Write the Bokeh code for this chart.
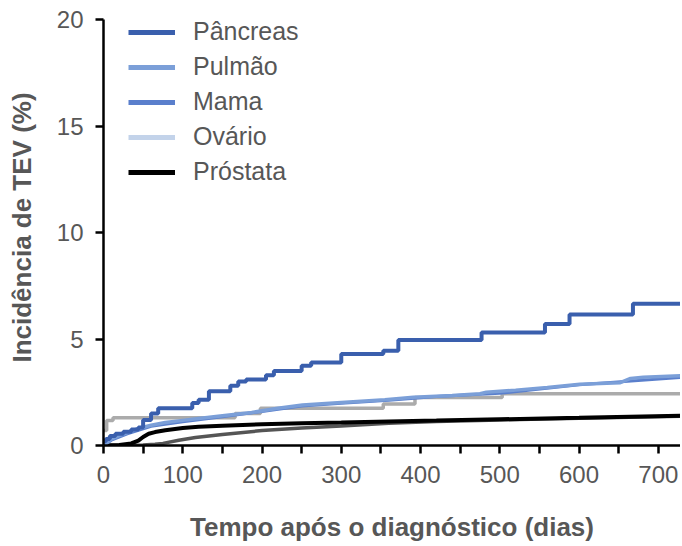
from bokeh.plotting import figure
from bokeh.models import FixedTicker, Legend, LegendItem, Range1d
from bokeh.embed import file_html
from bokeh.resources import INLINE

# ---- data ----
series_names = ["Pâncreas", "Pulmão", "Mama", "Ovário", "Próstata"]
legend_colors = ["#3a5fad", "#7b9fd8", "#5a7fcc", "#c3d3ea", "#000000"]

pancreas_days = [0, 3, 8, 15, 25, 35, 44, 50, 60, 69, 112, 120, 133, 160, 170, 180, 205, 215, 250, 262, 300, 353, 372, 477, 557, 588, 668, 730]
pancreas_vals = [0.2, 0.3, 0.45, 0.55, 0.65, 0.75, 0.85, 1.2, 1.5, 1.75, 2.0, 2.15, 2.55, 2.8, 3.0, 3.1, 3.3, 3.5, 3.75, 3.9, 4.3, 4.45, 4.95, 5.3, 5.7, 6.15, 6.65, 6.65]

pulmao_days = [0, 5, 10, 19, 30, 44, 60, 78, 100, 120, 150, 187, 220, 251, 300, 355, 391, 440, 475, 483, 520, 560, 601, 652, 665, 681, 730]
pulmao_vals = [0.0, 0.15, 0.3, 0.45, 0.6, 0.8, 0.95, 1.08, 1.18, 1.27, 1.4, 1.55, 1.75, 1.9, 2.02, 2.15, 2.27, 2.35, 2.43, 2.5, 2.6, 2.72, 2.88, 2.95, 3.15, 3.2, 3.28]

mama_days = [0, 10, 30, 60, 100, 150, 200, 250, 300, 360, 420, 500, 600, 730]
mama_vals = [0.0, 0.25, 0.55, 0.9, 1.12, 1.35, 1.6, 1.85, 1.98, 2.12, 2.3, 2.45, 2.85, 3.2]

ovario_days = [0, 4, 12, 166, 198, 353, 393, 503, 730]
ovario_vals = [0.7, 1.17, 1.3, 1.5, 1.75, 1.95, 2.25, 2.43, 2.43]

prostata_days = [0, 20, 35, 44, 50, 57, 65, 78, 100, 120, 150, 200, 250, 300, 360, 420, 500, 600, 730]
prostata_vals = [0.0, 0.02, 0.1, 0.23, 0.4, 0.55, 0.63, 0.72, 0.82, 0.88, 0.93, 1.0, 1.04, 1.08, 1.13, 1.17, 1.23, 1.3, 1.4]

outro_days = [0, 50, 65, 75, 95, 116, 150, 200, 250, 300, 360, 420, 500, 600, 730]
outro_vals = [0.0, 0.02, 0.06, 0.1, 0.25, 0.38, 0.52, 0.7, 0.82, 0.92, 1.05, 1.13, 1.2, 1.28, 1.38]

x_ticks = [0, 100, 200, 300, 400, 500, 600, 700]
x_minor = [50, 150, 250, 350, 450, 550, 650]
y_ticks = [0, 5, 10, 15, 20]

FONT = "Liberation Sans"
TXT = "#575757"
NAN = float("nan")

p = figure(frame_width=577, frame_height=436, output_backend="svg", toolbar_location=None,
           x_range=Range1d(0, 728), y_range=Range1d(0, 20.47),
           min_border_left=103, min_border_right=0, min_border_top=9, min_border_bottom=0)
p.outline_line_color = None
p.grid.visible = False
p.background_fill_color = "white"

# lines
p.line(outro_days, outro_vals, line_color="#555555", line_width=3.5)
p.line(prostata_days, prostata_vals, line_color="#000000", line_width=4)
p.step(ovario_days, ovario_vals, mode="after", line_color="#ababab", line_width=3.5)
p.line(mama_days, mama_vals, line_color="#5a7fcc", line_width=3)
p.line(pulmao_days, pulmao_vals, line_color="#7b9fd8", line_width=3.5)
p.step(pancreas_days, pancreas_vals, mode="after", line_color="#3a5fad", line_width=4)

# legend (swatches use legend colours)
items = []
for name, col in zip(series_names, legend_colors):
    r = p.line(x=[NAN, NAN], y=[NAN, NAN], line_color=col, line_width=5)
    items.append(LegendItem(label=name, renderers=[r]))
leg = Legend(items=items, location=(25, 259), orientation="vertical",
             glyph_width=47, glyph_height=20, label_height=20, spacing=6,
             label_standoff=18, padding=0, margin=0,
             label_text_font=FONT, label_text_font_size="25px", label_text_color=TXT,
             border_line_color=None, background_fill_alpha=0)
p.add_layout(leg, "center")

# axes
for ax in (p.xaxis[0], p.yaxis[0]):
    ax.axis_line_width = 2.5
    ax.axis_line_color = "black"
    ax.major_tick_line_width = 2.5
    ax.minor_tick_line_width = 2.5
    ax.major_tick_in = 0
    ax.major_tick_out = 8
    ax.major_label_text_font = FONT
    ax.major_label_text_font_size = "24px"
    ax.major_label_text_color = TXT
    ax.axis_label_text_font = FONT
    ax.axis_label_text_font_size = "26px"
    ax.axis_label_text_font_style = "bold"
    ax.axis_label_text_color = TXT

p.xaxis.ticker = FixedTicker(ticks=x_ticks, minor_ticks=x_minor)
p.xaxis.bounds = (0, 728)
p.xaxis.minor_tick_in = 0
p.xaxis.minor_tick_out = 8
p.xaxis.major_label_standoff = 12
p.xaxis.axis_label = "Tempo após o diagnóstico (dias)"
p.xaxis.axis_label_standoff = 26

p.yaxis.ticker = FixedTicker(ticks=y_ticks, minor_ticks=[])
p.yaxis.bounds = (0, 20)
p.yaxis.minor_tick_out = 0
p.yaxis.major_label_standoff = 12
p.yaxis.axis_label = "Incidência de TEV (%)"
p.yaxis.axis_label_standoff = 17

open("out.html", "w").write(file_html(p, INLINE))
